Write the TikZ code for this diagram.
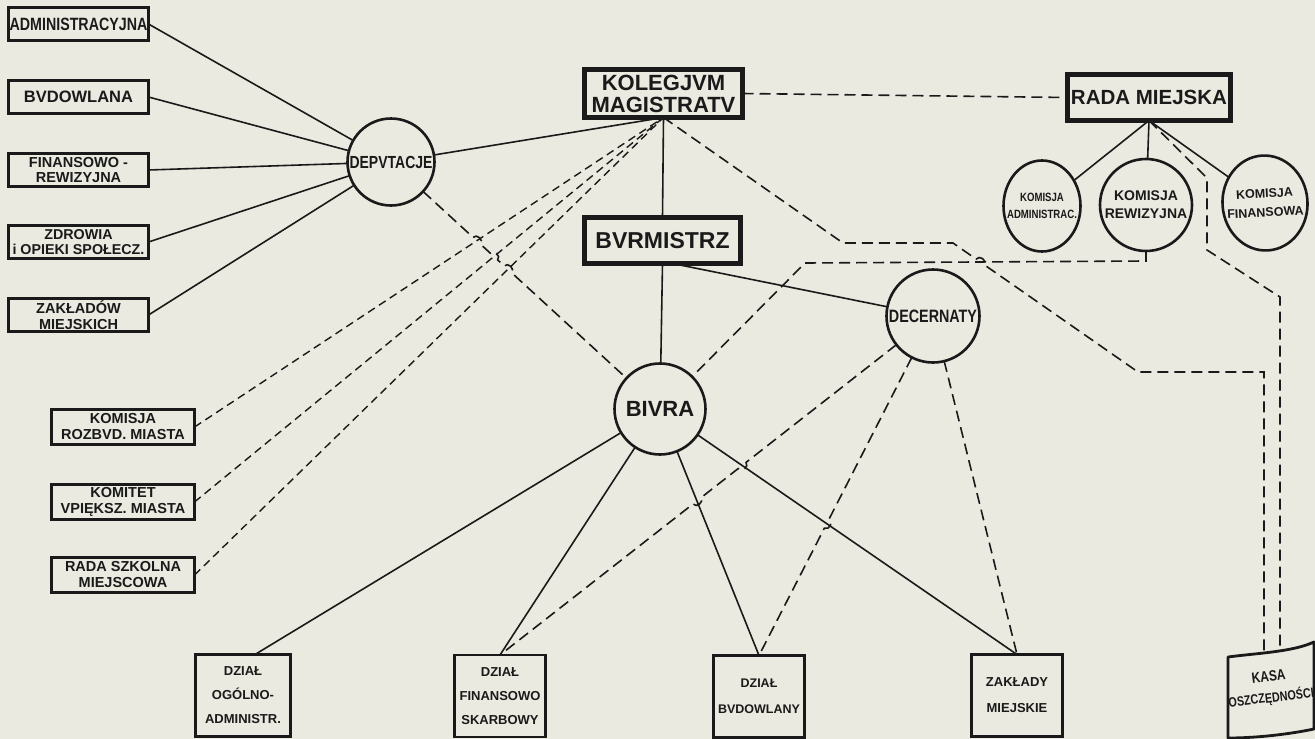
\documentclass[tikz,border=0pt]{standalone}
\usepackage{fontspec}
\setmainfont{Liberation Sans}
\newfontfamily\nf[FakeStretch=0.8]{Liberation Sans}
\usetikzlibrary{calc,shapes.geometric}
\definecolor{paper}{RGB}{235,234,224}
\definecolor{ink}{RGB}{26,26,26}
\tikzset{
  lbl/.style={text=ink, align=center, inner sep=0pt, outer sep=0pt},
  fr/.style 2 args={font=\bfseries\fontsize{#1}{#2}\selectfont},
  fn/.style 2 args={font=\nf\bfseries\fontsize{#1}{#2}\selectfont},
  sbox/.style={lbl, draw=ink, line width=2.8pt, minimum width=140pt, minimum height=33pt},
  mbox/.style={lbl, draw=ink, line width=4.6pt},
  circ/.style={lbl, circle, draw=ink, line width=2.6pt},
  ell/.style={lbl, ellipse, draw=ink, line width=2.6pt},
  bbox/.style={lbl, draw=ink, line width=2.8pt, minimum width=91pt, minimum height=82pt},
  con/.style={draw=ink, line width=1.6pt},
  dsh/.style={con, dash pattern=on 11pt off 6pt},
  ldsh/.style={con, line width=1.4pt, dash pattern=on 8pt off 5pt},
  bump/.style={bend left=90, looseness=1.4}
}
\begin{document}
\begin{tikzpicture}[x=1pt,y=-1pt]
\useasboundingbox (0,0) rectangle (1315,739);
\fill[paper] (0,0) rectangle (1315,739);

% left column boxes
\node[sbox, fn={17.8}{20}] (adm) at (78.5,24) {ADMINISTRACYJNA};
\node[sbox, fr={16.5}{18}] (bud) at (78.5,97) {BVDOWLANA};
\node[sbox, fr={14.5}{15.5}] (finrew) at (78.5,170) {FINANSOWO -\\REWIZYJNA};
\node[sbox, fr={14.3}{15.5}] (zdr) at (78.5,242) {ZDROWIA\\i OPIEKI SPOŁECZ.};
\node[sbox, fr={14.5}{15.5}] (zak) at (78.5,315) {ZAKŁADÓW\\MIEJSKICH};
\node[sbox, minimum width=143pt, minimum height=35pt, fr={14.5}{16}] (rozb) at (123,427) {KOMISJA\\ROZBVD. MIASTA};
\node[sbox, minimum width=143pt, minimum height=35pt, fr={14.5}{16}] (upi) at (123,502) {KOMITET\\VPIĘKSZ. MIASTA};
\node[sbox, minimum width=143pt, minimum height=35pt, fr={14.5}{16}] (szk) at (123,575) {RADA SZKOLNA\\MIEJSCOWA};

% main boxes
\node[mbox, minimum width=158pt, minimum height=48pt, fr={22}{22}] (kol) at (663.5,93.5) {KOLEGJVM\\MAGISTRATV};
\node[mbox, minimum width=156pt, minimum height=46pt, fr={23}{23}] (bur) at (662.5,240.5) {BVRMISTRZ};
\node[mbox, minimum width=163pt, minimum height=46pt, fr={20.5}{21}] (rada) at (1149,97.5) {RADA MIEJSKA};

% circles
\node[circ, minimum size=87pt, fn={17.5}{18}] (dep) at (391,162) {DEPVTACJE};
\node[circ, minimum size=91pt, fr={22}{22}] (biv) at (660,409) {BIVRA};
\node[circ, minimum size=93pt, fn={17.9}{18}] (dec) at (933,316) {DECERNATY};
\node[ell, minimum width=77pt, minimum height=91pt] (kadm) at (1042,206) {};
\node[lbl, fn={12}{17}] (kadmT) at (kadm.center) {KOMISJA\\ADMINISTRAC.};
\node[circ, minimum size=92pt, fr={14}{18}] (krew) at (1146,205) {KOMISJA\\REWIZYJNA};
\node[ell, minimum width=85pt, minimum height=95pt, rotate=4] (kfin) at (1265,203) {};
\node[lbl, fr={12.5}{19}, rotate=3] (kfinT) at (kfin.center) {KOMISJA\\FINANSOWA};

% bottom boxes
\node[bbox, minimum width=95pt, fr={13}{24}] (ogol) at (243,695.5) {DZIAŁ\\OGÓLNO-\\ADMINISTR.};
\node[bbox, fr={13}{24}] (fin) at (500,696) {DZIAŁ\\FINANSOWO\\SKARBOWY};
\node[bbox, fr={12.5}{26}] (budz) at (759,696.5) {DZIAŁ\\BVDOWLANY};
\node[bbox, fr={13}{26}] (zakm) at (1017,695.5) {ZAKŁADY\\MIEJSKIE};

% kasa (curved page)
\coordinate (kTL) at (1228,657);
\coordinate (kTR) at (1314,642);
\coordinate (kBR) at (1314,729);
\coordinate (kBL) at (1228,738);
\draw[ink, line width=2.8pt, line join=round] (kTL) .. controls (1258,653) and (1292,652) .. (kTR) -- (kBR) .. controls (1290,734) and (1258,738) .. (kBL) -- cycle;
\node[lbl, fn={13.5}{21}, rotate=7] (kasa) at (1270,688) {{\fontsize{15}{15}\selectfont KASA}\\OSZCZĘDNOŚCI};
\coordinate (kasaA) at (1264,652);
\coordinate (kasaB) at (1280,648);

% helper coordinates
\coordinate (kolS) at (kol.south);
\coordinate (depC) at (dep.center);
\coordinate (bivC) at (biv.center);
\coordinate (decC) at (dec.center);
\coordinate (rozbE) at (rozb.east);
\coordinate (upiE) at (upi.east);
\coordinate (szkE) at (szk.east);
\coordinate (finN) at (fin.north);
\coordinate (budN) at (budz.north);
\coordinate (zakN) at (zakm.north);
\coordinate (ogolT) at ($(ogol.north)+(12,0)$);
\coordinate (burR) at ($(bur.south)+(10,0)$);
\coordinate (k1) at (843,243);
\coordinate (k2) at (953,243);
\coordinate (k3) at (1138,372);
\coordinate (k4) at (1264,372);
\coordinate (r1) at ($(krew.south)+(0,10)$);
\coordinate (r2) at (805,263);
\coordinate (q1) at (1207,178);
\coordinate (q2) at (1207,250);
\coordinate (q3) at (1280,297);
\coordinate (x1) at (intersection of depC--bivC and rozbE--kolS);
\coordinate (x2) at (intersection of depC--bivC and upiE--kolS);
\coordinate (x3) at (intersection of depC--bivC and szkE--kolS);
\coordinate (y1) at (intersection of decC--finN and bivC--zakN);
\coordinate (y2) at (intersection of decC--finN and bivC--budN);
\coordinate (y3) at (intersection of decC--budN and bivC--zakN);
\coordinate (y4) at (intersection of k2--k3 and r1--r2);

% solid connectors
\foreach \b in {adm,bud,finrew,zdr,zak} \draw[con] (\b.east) -- (dep);
\draw[con] (dep) -- (kol.south);
\draw[con] (kol.south) -- (bur.north);
\draw[con] (bur.south) -- (biv);
\draw[con] (burR) -- (dec);
\draw[con] (biv) -- (ogolT);
\draw[con] (biv) -- (fin.north);
\draw[con] (biv) -- (budz.north);
\draw[con] (biv) -- (zakm.north);
\draw[con] (rada.south) -- (kadm);
\draw[con] (rada.south) -- (krew);
\draw[con] (rada.south) -- (kfin);

% dashed connectors
\draw[dsh] (kol.east) -- (rada.west);
\draw[ldsh] (rozb.east) -- (kol.south);
\draw[ldsh] (upi.east) -- (kol.south);
\draw[ldsh] (szk.east) -- (kol.south);
\draw[dsh] (dep) -- ($(x1)!5pt!(depC)$) to[bump] ($(x1)!5pt!(bivC)$)
  -- ($(x2)!5pt!(depC)$) to[bump] ($(x2)!5pt!(bivC)$)
  -- ($(x3)!5pt!(depC)$) to[bump] ($(x3)!5pt!(bivC)$) -- (biv);
\draw[dsh] (dec) -- ($(y1)!5pt!(decC)$) to[bump] ($(y1)!5pt!(finN)$)
  -- ($(y2)!5pt!(decC)$) to[bump] ($(y2)!5pt!(finN)$) -- (fin.north);
\draw[dsh] (dec) -- ($(y3)!5pt!(decC)$) to[bump] ($(y3)!5pt!(budN)$) -- (budz.north);
\draw[dsh] (dec) -- (zakm.north);
\draw[dsh] (krew.south) -- (r1) -- (r2) -- (biv);
\draw[dsh] (kol.south) -- (k1) -- (k2) -- ($(y4)!5pt!(k2)$) to[bump] ($(y4)!5pt!(k3)$) -- (k3) -- (k4) -- (kasaA);
\draw[dsh] (rada.south) -- (q1) -- (q2) -- (q3) -- (kasaB);
\end{tikzpicture}
\end{document}
